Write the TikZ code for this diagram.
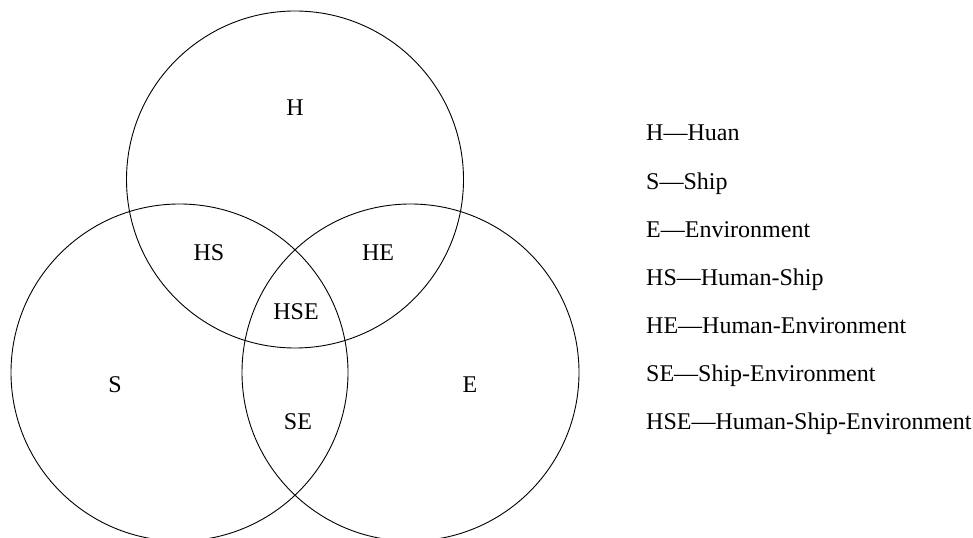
\documentclass[tikz,border=0pt]{standalone}
\usepackage{fontspec}
\setmainfont{Liberation Serif}
\begin{document}
\begin{tikzpicture}[x=1bp,y=-1bp,
  ring/.style={line width=0.9bp,draw=black},
  lbl/.style={font=\fontsize{24bp}{28bp}\selectfont,inner sep=0pt,text height=0.66em,text depth=0pt,yshift=-4bp},
  leg/.style={lbl,anchor=west}]
\useasboundingbox (0,0) rectangle (973,538);
\clip (0,0) rectangle (973,538);
\draw[ring] (295,179.5) circle[radius=168.5];
\draw[ring] (179.5,372.5) circle[radius=168.5];
\draw[ring] (410.5,372.5) circle[radius=168.5];
\node[lbl] (h) at (295,108) {H};
\node[lbl] (hs) at (209,253) {HS};
\node[lbl] (he) at (378,253) {HE};
\node[lbl] (hse) at (296,312) {HSE};
\node[lbl] (s) at (115,385) {S};
\node[lbl] (e) at (470,385) {E};
\node[lbl] (se) at (298,422) {SE};
\node[leg] (l1) at (646,133) {H\textemdash Huan};
\node[leg] (l2) at (646,182) {S\textemdash Ship};
\node[leg] (l3) at (646,230) {E\textemdash Environment};
\node[leg] (l4) at (646,278) {HS\textemdash Human-Ship};
\node[leg] (l5) at (646,326) {HE\textemdash Human-Environment};
\node[leg] (l6) at (646,374) {SE\textemdash Ship-Environment};
\node[leg] (l7) at (646,422) {HSE\textemdash Human-Ship-Environment};
\end{tikzpicture}
\end{document}
